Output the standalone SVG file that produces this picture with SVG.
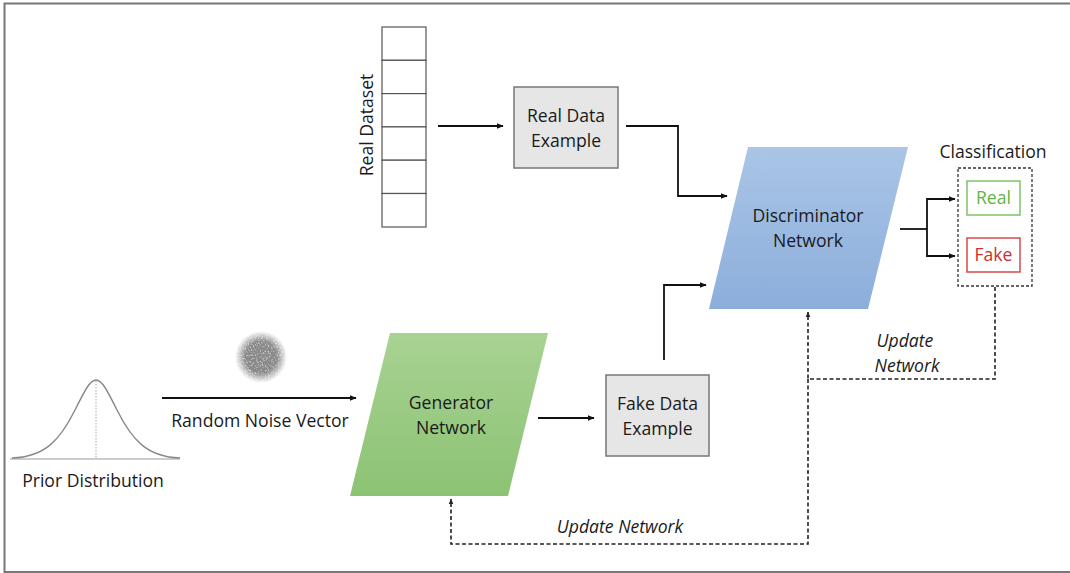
<svg xmlns="http://www.w3.org/2000/svg" width="1070" height="573" viewBox="0 0 1070 573">
  <defs>
    <style>
      text { font-family: "Open Sans", "Liberation Sans", sans-serif; font-size: 17.6px; fill: #1a1a1a; }
      .it { font-style: italic; }
      .box { fill: #e6e6e6; stroke: #777; stroke-width: 1.5; }
      .cell { fill: #fff; stroke: #555; stroke-width: 1.2; }
      .link { fill: none; stroke: #111; stroke-width: 1.8; }
      .dash { fill: none; stroke: #222; stroke-width: 1.6; stroke-dasharray: 4 2.5; }
    </style>
    <marker id="arr" viewBox="0 0 10 10" refX="9" refY="5" markerWidth="7" markerHeight="7" markerUnits="userSpaceOnUse" orient="auto">
      <path d="M0,1 L10,5 L0,9 Z" fill="#111"/>
    </marker>
    <marker id="arrs" viewBox="0 0 10 10" refX="9" refY="5" markerWidth="6" markerHeight="6" markerUnits="userSpaceOnUse" orient="auto">
      <path d="M0,1 L10,5 L0,9 Z" fill="#222"/>
    </marker>
    <linearGradient id="gBlue" x1="0" y1="0" x2="0" y2="1">
      <stop offset="0" stop-color="#aac5e6"/>
      <stop offset="1" stop-color="#8caedb"/>
    </linearGradient>
    <linearGradient id="gGreen" x1="0" y1="0" x2="0" y2="1">
      <stop offset="0" stop-color="#a9d293"/>
      <stop offset="1" stop-color="#8bc373"/>
    </linearGradient>
    <radialGradient id="fade" cx="0.5" cy="0.5" r="0.5">
      <stop offset="0.6" stop-color="#fff"/>
      <stop offset="1" stop-color="#000"/>
    </radialGradient>
    <mask id="blobMask">
      <circle cx="261" cy="357" r="26" fill="url(#fade)"/>
    </mask>
    <!-- speckled grey texture for the noise vector blob -->
    <filter id="grain" x="0" y="0" width="100%" height="100%">
      <feTurbulence type="fractalNoise" baseFrequency="0.6" numOctaves="2" seed="5"/>
      <feColorMatrix type="matrix" values="0 0 0 0 0.25  0 0 0 0 0.25  0 0 0 0 0.25  0 0 0 -2 2"/>
    </filter>
  </defs>

  <!-- outer frame -->
  <path d="M1070,3.5 H4.5 V572 H1070" fill="none" stroke="#777" stroke-width="2"/>

  <g id="connectors">
    <line class="link" x1="438" y1="126" x2="503" y2="126" marker-end="url(#arr)"/>
    <path class="link" d="M626,126 H678 V196 H727" marker-end="url(#arr)"/>
    <line class="link" x1="162" y1="398" x2="356" y2="398" marker-end="url(#arr)"/>
    <line class="link" x1="538" y1="418" x2="594" y2="418" marker-end="url(#arr)"/>
    <path class="link" d="M664,360 V285 H706" marker-end="url(#arr)"/>
    <path class="link" d="M900,229 H927"/>
    <path class="link" d="M954,199 H927 V256 H954"/>
    <line class="link" x1="927" y1="199" x2="955" y2="199" marker-end="url(#arr)"/>
    <line class="link" x1="927" y1="256" x2="955" y2="256" marker-end="url(#arr)"/>
    <path class="dash" d="M995,287 V379 H808 V312" marker-end="url(#arrs)"/>
    <path class="dash" d="M808,379 V544 H451 V499" marker-end="url(#arrs)"/>
    <text class="it" x="905" y="347" text-anchor="middle">Update</text>
    <text class="it" x="907" y="372" text-anchor="middle">Network</text>
    <text class="it" x="620" y="533" text-anchor="middle">Update Network</text>
  </g>

  <g id="real-dataset">
    <rect class="cell" x="382" y="27" width="44" height="33.3"/>
    <rect class="cell" x="382" y="60.3" width="44" height="33.3"/>
    <rect class="cell" x="382" y="93.6" width="44" height="33.3"/>
    <rect class="cell" x="382" y="126.9" width="44" height="33.3"/>
    <rect class="cell" x="382" y="160.2" width="44" height="33.3"/>
    <rect class="cell" x="382" y="193.5" width="44" height="33.5"/>
    <text transform="translate(373,125) rotate(-90)" text-anchor="middle">Real Dataset</text>
  </g>

  <g id="real-example">
    <rect class="box" x="514" y="87" width="104" height="81"/>
    <text x="566" y="122" text-anchor="middle">Real Data</text>
    <text x="566" y="147" text-anchor="middle">Example</text>
  </g>

  <g id="discriminator">
    <polygon points="748,147 908,147 868,309 709,309" fill="url(#gBlue)"/>
    <text x="808" y="222" text-anchor="middle">Discriminator</text>
    <text x="808" y="247" text-anchor="middle">Network</text>
  </g>

  <g id="classification">
    <text x="993" y="158" text-anchor="middle">Classification</text>
    <rect x="958" y="168" width="74" height="118" fill="#fff" stroke="#333" stroke-width="1.3" stroke-dasharray="3 2"/>
    <rect x="967" y="181" width="53" height="34" fill="#fff" stroke="#7cc46a" stroke-width="1.5"/>
    <text x="993.5" y="204" text-anchor="middle" style="fill:#5cb545">Real</text>
    <rect x="967" y="238" width="53" height="34" fill="#fff" stroke="#d94848" stroke-width="1.5"/>
    <text x="993.5" y="261" text-anchor="middle" style="fill:#cc2f2f">Fake</text>
  </g>

  <g id="prior">
    <path d="M10,459 H180" stroke="#999" stroke-width="1.2" fill="none"/>
    <path d="M12,458 C45,457 60,440 75,410 C85,390 90,380 96,380 C102,380 107,390 117,410 C132,440 147,457 180,458" stroke="#888" stroke-width="1.4" fill="none"/>
    <line x1="96" y1="381" x2="96" y2="459" stroke="#aaa" stroke-width="1" stroke-dasharray="1.5 1.5"/>
    <text x="93" y="487" text-anchor="middle">Prior Distribution</text>
  </g>

  <g id="noise">
    <rect x="233" y="329" width="56" height="56" filter="url(#grain)" mask="url(#blobMask)"/>
    <text x="260" y="427" text-anchor="middle">Random Noise Vector</text>
  </g>

  <g id="generator">
    <polygon points="390,333 548,333 508,496 350,496" fill="url(#gGreen)"/>
    <text x="451" y="409" text-anchor="middle">Generator</text>
    <text x="451" y="434" text-anchor="middle">Network</text>
  </g>

  <g id="fake-example">
    <rect class="box" x="606" y="375" width="103" height="81"/>
    <text x="657.5" y="410" text-anchor="middle">Fake Data</text>
    <text x="657.5" y="435" text-anchor="middle">Example</text>
  </g>
</svg>
